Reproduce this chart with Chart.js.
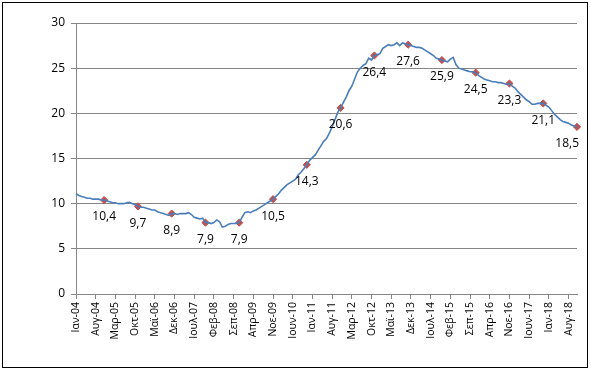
<!DOCTYPE html>
<html>
<head>
<meta charset="utf-8">
<script src="https://cdn.jsdelivr.net/npm/chart.js@4/dist/chart.umd.min.js"></script>
<style>
  html, body { margin: 0; padding: 0; background: #fff; }
  #wrap { position: relative; width: 591px; height: 371px; }
  #frame { position: absolute; left: 2px; top: 2px; width: 584px; height: 364px; border: 1px solid #000; pointer-events: none; }
</style>
</head>
<body>
<div id="wrap">
  <canvas id="chart" width="591" height="371"></canvas>
  <div id="frame"></div>
</div>
<script>
const monthNames = ['Ιαν', 'Φεβ', 'Μαρ', 'Απρ', 'Μαϊ', 'Ιουν', 'Ιουλ', 'Αυγ', 'Σεπ', 'Οκτ', 'Νοε', 'Δεκ'];
const firstYear = 4;   // 2004
const monthCount = 179; // Ιαν-04 .. Νοε-18

// monthly rate, one row per year
const rate = [
  11.1, 10.9, 10.8, 10.7, 10.6, 10.6, 10.5, 10.5, 10.5, 10.4, 10.4, 10.3,
  10.2, 10.1, 10.1, 10.0, 10.0, 10.0, 10.1, 10.15, 10.0, 9.9, 9.7, 9.6,
  9.6, 9.5, 9.4, 9.3, 9.3, 9.1, 9.0, 8.9, 8.8, 8.7, 8.9, 8.9,
  8.8, 8.9, 8.9, 8.9, 9.0, 8.8, 8.5, 8.4, 8.3, 8.4, 7.9, 7.9,
  7.8, 7.9, 8.2, 8.0, 7.4, 7.5, 7.7, 7.8, 7.8, 7.8, 7.9, 8.5,
  9.0, 9.1, 9.0, 9.2, 9.3, 9.5, 9.7, 9.9, 10.1, 10.3, 10.5, 10.8,
  11.1, 11.5, 11.8, 12.1, 12.3, 12.5, 12.7, 13.2, 13.5, 13.9, 14.3, 14.8,
  15.1, 15.4, 15.9, 16.4, 16.9, 17.2, 17.8, 18.5, 19.3, 20.1, 20.6, 21.2,
  21.8, 22.5, 23.0, 23.8, 24.6, 25.0, 25.3, 25.5, 26.1, 25.9, 26.4, 26.5,
  26.6, 27.2, 27.4, 27.6, 27.5, 27.6, 27.8, 27.5, 27.8, 27.7, 27.6, 27.5,
  27.4, 27.3, 27.3, 27.2, 27.0, 26.8, 26.6, 26.4, 26.1, 26.0, 25.9, 25.8,
  25.7, 26.0, 26.2, 25.4, 25.0, 24.9, 24.8, 24.7, 24.6, 24.6, 24.5, 24.2,
  24.0, 23.8, 23.7, 23.6, 23.5, 23.5, 23.4, 23.4, 23.3, 23.2, 23.3, 23.0,
  22.8, 22.4, 22.1, 21.8, 21.5, 21.3, 21.0, 21.0, 21.1, 21.1, 21.1, 20.9,
  20.7, 20.3, 19.9, 19.6, 19.3, 19.1, 19.0, 18.9, 18.7, 18.6, 18.5
];

// highlighted points (November of each year) and their labels
const markerIdx = [10, 22, 34, 46, 58, 70, 82, 94, 106, 118, 130, 142, 154, 166, 178];
const markerValues = [10.4, 9.7, 8.9, 7.9, 7.9, 10.5, 14.3, 20.6, 26.4, 27.6, 25.9, 24.5, 23.3, 21.1, 18.5];

const yTicks = [0, 5, 10, 15, 20, 25, 30];

const labels = [];
for (let i = 0; i < monthCount; i++) {
  const yr = firstYear + Math.floor(i / 12);
  labels.push(monthNames[i % 12] + '-' + String(yr).padStart(2, '0'));
}

const markers = labels.map(() => null);
markerIdx.forEach((idx, k) => { markers[idx] = markerValues[k]; });

const gridColor = '#868686';
const fontFamily = '"Open Sans", "DejaVu Sans", sans-serif';

const pointLabels = {
  id: 'pointLabels',
  afterDatasetsDraw(chart) {
    const ctx = chart.ctx;
    const meta = chart.getDatasetMeta(1);
    const right = chart.chartArea.right + 2;
    ctx.save();
    ctx.font = '12px ' + fontFamily;
    ctx.fillStyle = '#000';
    ctx.textAlign = 'center';
    ctx.textBaseline = 'middle';
    meta.data.forEach((pt, i) => {
      const v = markers[i];
      if (v === null) return;
      const txt = v.toFixed(1).replace('.', ',');
      const half = ctx.measureText(txt).width / 2;
      // keep the last label inside the plot, like the original
      const x = Math.min(pt.x, right - half);
      ctx.fillText(txt, x, pt.y + 17);
    });
    ctx.restore();
  }
};

new Chart(document.getElementById('chart'), {
  type: 'line',
  data: {
    labels: labels,
    datasets: [
      {
        data: rate,
        borderColor: '#4A7EBB',
        borderWidth: 1.6,
        pointRadius: 0,
        tension: 0
      },
      {
        data: markers,
        showLine: false,
        pointStyle: 'rectRot',
        pointRadius: 3.6,
        backgroundColor: '#C0504D',
        borderColor: '#C0504D',
        borderWidth: 1
      }
    ]
  },
  options: {
    responsive: false,
    animation: false,
    devicePixelRatio: 1,
    layout: { padding: { top: 23, right: 14, left: 0, bottom: 0 } },
    plugins: {
      legend: { display: false },
      tooltip: { enabled: false }
    },
    scales: {
      x: {
        offset: false,
        afterFit(scale) { scale.height = 77; },
        grid: { drawOnChartArea: false, drawTicks: true, tickLength: 5, color: gridColor },
        border: { color: gridColor, width: 1 },
        ticks: {
          autoSkip: false,
          minRotation: 90,
          maxRotation: 90,
          padding: 3,
          color: '#000',
          font: { family: fontFamily, size: 10.5 },
          callback(val, index) {
            return index % 7 === 0 ? this.getLabelForValue(val) : null;
          }
        }
      },
      y: {
        min: 0,
        max: 30,
        afterFit(scale) { scale.width = 76; },
        afterBuildTicks(scale) { scale.ticks = yTicks.map(v => ({ value: v })); },
        grid: { color: gridColor, tickLength: 5 },
        border: { color: gridColor, width: 1 },
        ticks: {
          padding: 6,
          color: '#000',
          font: { family: fontFamily, size: 12 }
        }
      }
    }
  },
  plugins: [pointLabels]
});
</script>
</body>
</html>
